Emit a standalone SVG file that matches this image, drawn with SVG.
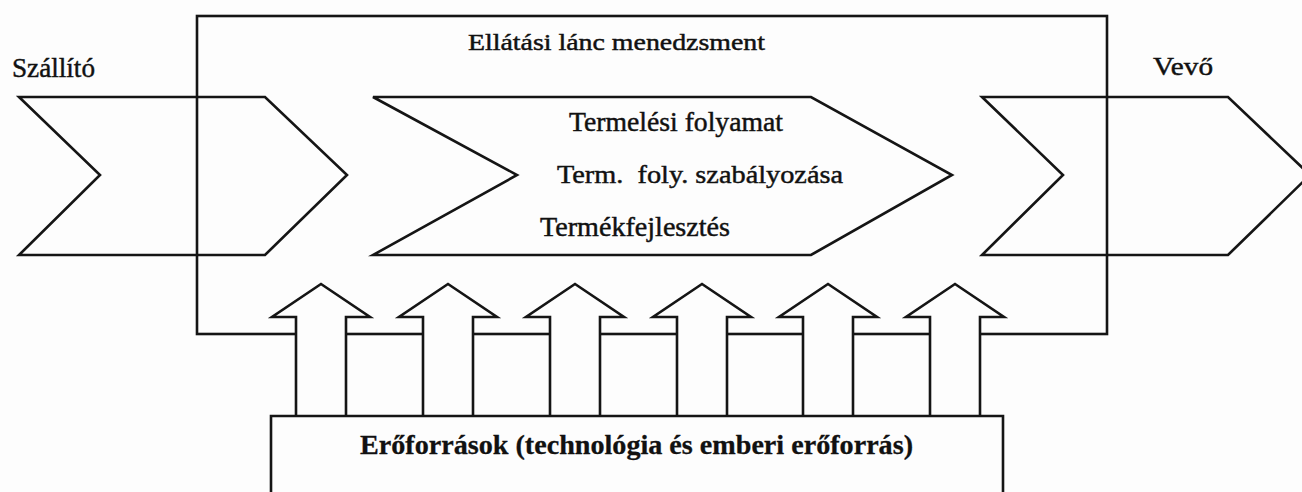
<svg xmlns="http://www.w3.org/2000/svg" width="1302" height="492" viewBox="0 0 1302 492">
  <style>
    .ln { fill: none; stroke: #151515; stroke-width: 2.6; stroke-linejoin: miter; }
    .arr { fill: #fdfdfd; stroke: #151515; stroke-width: 2.6; stroke-linejoin: miter; }
    .t { font-family: "Liberation Serif", "Times New Roman", serif; fill: #111; stroke: #111; stroke-width: 0.45; white-space: pre; }
    .b { font-weight: bold; stroke-width: 0.3; }
  </style>
  <defs>
    <path id="uparrow" d="M -25 416 L -25 317 L -49 317 L 0 284 L 49 317 L 25 317 L 25 416" />
  </defs>
  <rect x="0" y="0" width="1302" height="492" fill="#fdfdfd"/>

  <g id="supply-chain-management">
    <rect class="ln" x="197" y="16" width="910" height="318"/>
    <text class="t" x="468" y="50" font-size="23" textLength="297" lengthAdjust="spacingAndGlyphs">Ellátási lánc menedzsment</text>
  </g>

  <g id="supplier">
    <path class="ln" d="M 19 97 L 265 97 L 347 175 L 265 255 L 19 255 L 100 175 Z"/>
    <text class="t" x="12" y="77" font-size="28" textLength="83" lengthAdjust="spacingAndGlyphs">Szállító</text>
  </g>

  <g id="production">
    <path class="ln" d="M 373 97 L 811 97 L 952 175 L 811 255 L 373 255 L 517 175 Z"/>
    <text class="t" x="569" y="131" font-size="26.5" textLength="214" lengthAdjust="spacingAndGlyphs">Termelési folyamat</text>
    <text class="t" x="557" y="183" font-size="25.5" textLength="286" lengthAdjust="spacingAndGlyphs" xml:space="preserve">Term.  foly. szabályozása</text>
    <text class="t" x="540" y="236" font-size="26.5" textLength="190" lengthAdjust="spacingAndGlyphs">Termékfejlesztés</text>
  </g>

  <g id="customer">
    <path class="ln" d="M 982 97 L 1228 97 L 1310 175 L 1228 255 L 982 255 L 1063 175 Z"/>
    <text class="t" x="1153" y="75" font-size="26" textLength="60" lengthAdjust="spacingAndGlyphs">Vevő</text>
  </g>

  <g id="connectors">
    <use href="#uparrow" class="arr" transform="translate(321,0)"/>
    <use href="#uparrow" class="arr" transform="translate(448,0)"/>
    <use href="#uparrow" class="arr" transform="translate(575,0)"/>
    <use href="#uparrow" class="arr" transform="translate(702,0)"/>
    <use href="#uparrow" class="arr" transform="translate(828,0)"/>
    <use href="#uparrow" class="arr" transform="translate(955,0)"/>
  </g>

  <g id="resources">
    <path class="ln" d="M 271 500 L 271 416 L 1003 416 L 1003 500"/>
    <text class="t b" x="360" y="454" font-size="28" textLength="553" lengthAdjust="spacingAndGlyphs">Erőforrások (technológia és emberi erőforrás)</text>
  </g>
</svg>
